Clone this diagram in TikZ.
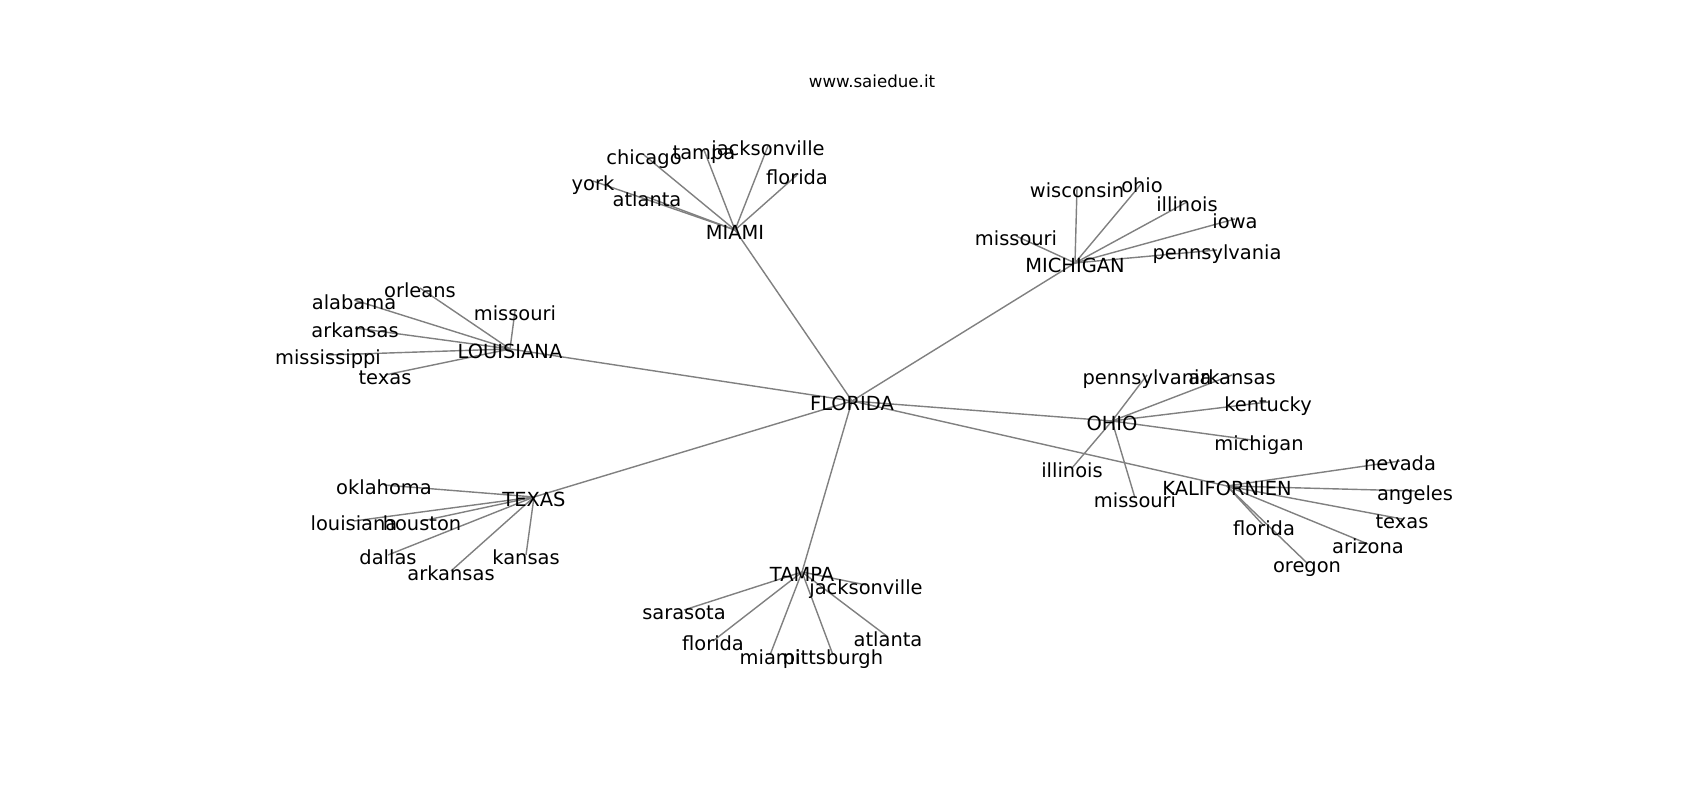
\documentclass[tikz,border=0pt]{standalone}
\usepackage{fontspec}
\setmainfont{DejaVu Sans}
\usetikzlibrary{backgrounds}
\tikzset{
  city/.style={inner sep=0pt, text height=0.76em, text depth=0.24em,
    font=\fontsize{5.53}{6.6}\selectfont},
  link/.style={draw=gray, line width=0.4pt},
}
\begin{document}
\begin{tikzpicture}
\useasboundingbox (0,-0.02) rectangle (17,7.98);
\node[inner sep=0pt, font=\fontsize{4.74}{5.7}\selectfont] (title) at (8.72,7.17) {www.saiedue.it};
% hubs
\node[city] (fl) at (8.52,3.97) {FLORIDA};
\node[city] (mia) at (7.35,5.68) {MIAMI};
\node[city] (mich) at (10.75,5.35) {MICHIGAN};
\node[city] (lou) at (5.10,4.49) {LOUISIANA};
\node[city] (oh) at (11.12,3.77) {OHIO};
\node[city] (kal) at (12.27,3.12) {KALIFORNIEN};
\node[city] (tex) at (5.34,3.01) {TEXAS};
\node[city] (tam) at (8.02,2.26) {TAMPA};
% miami
\node[city] (mia1) at (6.44,6.43) {chicago};
\node[city] (mia2) at (7.04,6.48) {tampa};
\node[city] (mia3) at (7.68,6.52) {jacksonville};
\node[city] (mia4) at (7.97,6.23) {florida};
\node[city] (mia5) at (5.93,6.17) {york};
\node[city] (mia6) at (6.47,6.01) {atlanta};
% michigan
\node[city] (mich1) at (10.77,6.10) {wisconsin};
\node[city] (mich2) at (11.42,6.15) {ohio};
\node[city] (mich3) at (11.87,5.96) {illinois};
\node[city] (mich4) at (12.35,5.79) {iowa};
\node[city] (mich5) at (10.16,5.62) {missouri};
\node[city] (mich6) at (12.17,5.48) {pennsylvania};
% louisiana
\node[city] (lou1) at (4.20,5.10) {orleans};
\node[city] (lou2) at (3.54,4.98) {alabama};
\node[city] (lou3) at (5.15,4.87) {missouri};
\node[city] (lou4) at (3.55,4.70) {arkansas};
\node[city] (lou5) at (3.28,4.43) {mississippi};
\node[city] (lou6) at (3.85,4.23) {texas};
% ohio
\node[city] (oh1) at (11.47,4.23) {pennsylvania};
\node[city] (oh2) at (12.32,4.23) {arkansas};
\node[city] (oh3) at (12.68,3.96) {kentucky};
\node[city] (oh4) at (12.59,3.57) {michigan};
\node[city] (oh5) at (10.72,3.30) {illinois};
\node[city] (oh6) at (11.35,3.00) {missouri};
% kalifornien
\node[city] (kal1) at (14.00,3.37) {nevada};
\node[city] (kal2) at (14.15,3.07) {angeles};
\node[city] (kal3) at (14.02,2.79) {texas};
\node[city] (kal4) at (12.64,2.72) {florida};
\node[city] (kal5) at (13.68,2.54) {arizona};
\node[city] (kal6) at (13.07,2.35) {oregon};
% texas
\node[city] (tex1) at (3.84,3.13) {oklahoma};
\node[city] (tex2) at (3.54,2.77) {louisiana};
\node[city] (tex3) at (4.22,2.77) {houston};
\node[city] (tex4) at (3.88,2.43) {dallas};
\node[city] (tex5) at (4.51,2.27) {arkansas};
\node[city] (tex6) at (5.26,2.43) {kansas};
% tampa
\node[city] (tam1) at (8.66,2.13) {jacksonville};
\node[city] (tam2) at (6.84,1.88) {sarasota};
\node[city] (tam3) at (7.13,1.57) {florida};
\node[city] (tam4) at (7.70,1.43) {miami};
\node[city] (tam5) at (8.33,1.43) {pittsburgh};
\node[city] (tam6) at (8.88,1.61) {atlanta};
% edges behind the labels
\begin{scope}[on background layer]
\foreach \h in {mia,mich,lou,oh,kal,tex,tam} {
  \draw[link] (fl.center) -- (\h.center);
  \foreach \i in {1,...,6}
    \draw[link] (\h.center) -- (\h\i.center);
}
\end{scope}
\end{tikzpicture}
\end{document}
